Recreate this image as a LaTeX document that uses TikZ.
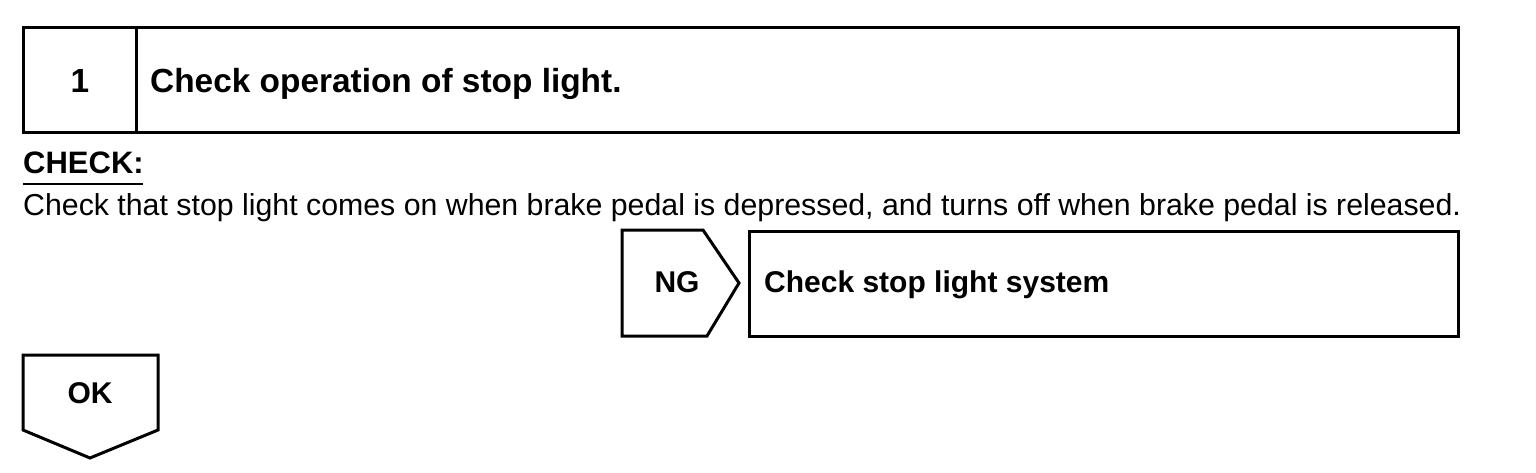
\documentclass[tikz,border=0pt]{standalone}
\usepackage{fontspec}
\setmainfont{Liberation Sans}
\begin{document}
\begin{tikzpicture}[x=1pt,y=-1pt,
  frame/.style={draw=black,line width=3pt,line join=miter},
  boldtxt/.style={font=\fontsize{33.4}{36}\selectfont\bfseries,inner sep=0pt},
  tagtxt/.style={font=\fontsize{30}{34}\selectfont\bfseries,inner sep=0pt},
  bodytxt/.style={font=\fontsize{30.3}{33}\selectfont,inner sep=0pt}]
\useasboundingbox (0,0) rectangle (1536,472);
% step box
\draw[frame] (23,27) rectangle (1458,132);
\draw[frame] (136,27) -- (136,132);
\node[boldtxt,anchor=base] (num) at (80,92) {1};
\node[boldtxt,anchor=base west] (title) at (150,92) {Check operation of stop light.};
% check text
\node[font=\fontsize{31}{34}\selectfont\bfseries,inner sep=0pt,anchor=base west] (chk) at (23,173) {CHECK:};
\draw[line width=1.5pt] (23,184) -- (143,184);
\node[bodytxt,anchor=base west] (body) at (23,215) {Check that stop light comes on when brake pedal is depressed, and turns off when brake pedal is released.};
% NG tag
\draw[frame] (622,230) -- (703,230) -- (739,283) -- (707,336) -- (622,336) -- cycle;
\node[tagtxt,anchor=base] (ng) at (677,292) {NG};
\draw[frame] (749,231) rectangle (1458,336);
\node[tagtxt,anchor=base west] (ngt) at (764,292) {Check stop light system};
% OK tag
\draw[frame] (23,355) -- (158,355) -- (158,430) -- (90,458) -- (23,430) -- cycle;
\node[tagtxt,anchor=base] (ok) at (90,403) {OK};
\end{tikzpicture}
\end{document}
